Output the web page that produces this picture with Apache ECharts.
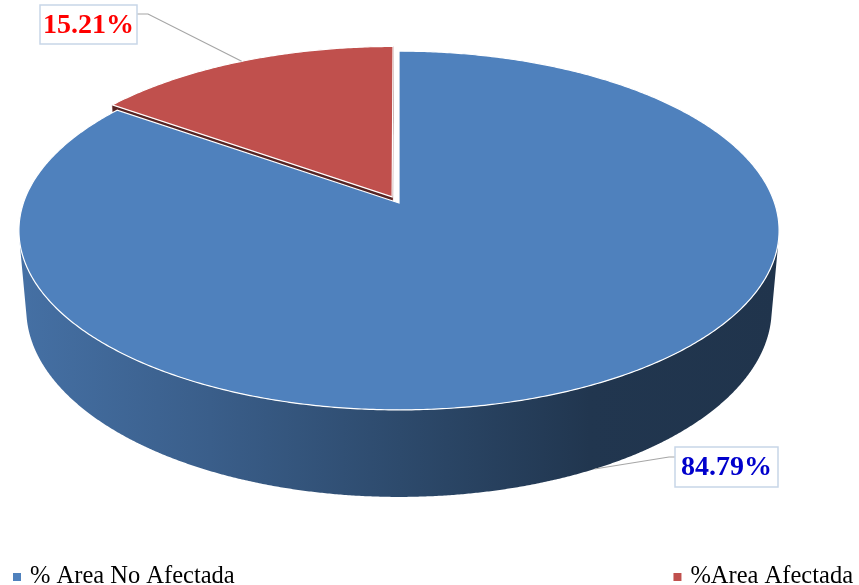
<!DOCTYPE html>
<html>
<head>
<meta charset="utf-8">
<script src="https://cdn.jsdelivr.net/npm/echarts@6/dist/echarts.min.js"></script>
<style>
  html, body { margin: 0; padding: 0; background: #ffffff; }
  #chart { width: 859px; height: 585px; }
</style>
</head>
<body>
<div id="chart"></div>
<script>
// Slice names, shares (%) and colours
const categories = ['% Area No Afectada', '%Area Afectada'];
const shares = [84.79, 15.21];
const sliceColors = ['#4F81BD', '#C0504D'];
const labelColors = ['#0000CC', '#FF0000'];
const explode = [0, 0.04];

// Perspective camera for the 3-D disc (unit radius, thickness `thick`)
const cam = { cx: 399, cy: 203, f: 2167.5, dist: 5.771, tilt: 27.8 * Math.PI / 180, thick: 0.2389 };
const cT = Math.cos(cam.tilt), sT = Math.sin(cam.tilt);

// Label boxes and leader elbows (screen layout)
const labelBoxes = [
  { x: 675, y: 447, w: 103, h: 40, elbow: [669, 457], end: [675, 457], anchorH: -1 },
  { x: 40, y: 5, w: 97, h: 39, elbow: [148, 14], end: [137, 14], anchorH: 0 }
];

const SERIF = 'Liberation Serif';

function project(x, h, z) {
  const yc = h * cT - z * sT;
  const d = cam.dist - (z * cT + h * sT);
  return [cam.cx + cam.f * x / d, cam.cy - cam.f * yc / d];
}

function shade(hex, k) {
  const n = parseInt(hex.slice(1), 16);
  const r = Math.round(((n >> 16) & 255) * k);
  const g = Math.round(((n >> 8) & 255) * k);
  const b = Math.round((n & 255) * k);
  return 'rgb(' + r + ',' + g + ',' + b + ')';
}

// Angular extent of each slice, clockwise from the back of the disc
const total = shares.reduce((a, b) => a + b, 0);
const bounds = [];
(function () {
  let acc = 0;
  shares.forEach(v => {
    const a0 = acc / total * Math.PI * 2;
    acc += v;
    bounds.push([a0, acc / total * Math.PI * 2]);
  });
})();

function sliceOffset(i) {
  const m = (bounds[i][0] + bounds[i][1]) / 2;
  return [explode[i] * Math.sin(m), -explode[i] * Math.cos(m)];
}

function rim(t, h, off) {
  return project(Math.sin(t) + off[0], h, -Math.cos(t) + off[1]);
}

function faceVisible(n, p) {
  const camPos = [0, cam.dist * sT, cam.dist * cT];
  return n[0] * (camPos[0] - p[0]) + n[1] * (camPos[1] - p[1]) + n[2] * (camPos[2] - p[2]) > 1e-6;
}

function buildSlice(i) {
  const [t0, t1] = bounds[i];
  const off = sliceOffset(i);
  const H = -cam.thick;
  const base = sliceColors[i];
  const children = [];

  // radial walls
  [[t0, [-Math.cos(t0), 0, -Math.sin(t0)]], [t1, [Math.cos(t1), 0, Math.sin(t1)]]].forEach(([t, n]) => {
    const p = [off[0] + 0.5 * Math.sin(t), H / 2, off[1] - 0.5 * Math.cos(t)];
    if (!faceVisible(n, p)) return;
    children.push({
      type: 'polygon',
      shape: { points: [project(off[0], 0, off[1]), rim(t, 0, off), rim(t, H, off), project(off[0], H, off[1])] },
      style: { fill: shade(base, 0.45), stroke: shade(base, 0.6), lineWidth: 0.5 }
    });
  });

  // outer curved wall (only the part facing the camera)
  const step = Math.PI / 720;
  const vis = [];
  for (let t = t0; t <= t1 + 1e-9; t += step) {
    const tt = Math.min(t, t1);
    const n = [Math.sin(tt), 0, -Math.cos(tt)];
    const p = [Math.sin(tt) + off[0], H / 2, -Math.cos(tt) + off[1]];
    if (faceVisible(n, p)) vis.push(tt);
  }
  if (vis.length > 1) {
    const top = vis.map(t => rim(t, 0, off));
    const bot = vis.slice().reverse().map(t => rim(t, H, off));
    children.push({
      type: 'polygon',
      shape: { points: top.concat(bot) },
      style: {
        fill: {
          type: 'linear', x: 20, y: 0, x2: 780, y2: 0, global: true,
          colorStops: [
            { offset: 0, color: shade(base, 0.87) },
            { offset: 0.25, color: shade(base, 0.73) },
            { offset: 0.5, color: shade(base, 0.57) },
            { offset: 0.75, color: shade(base, 0.42) },
            { offset: 1, color: shade(base, 0.40) }
          ]
        }
      }
    });
  }

  // top face
  const pts = [project(off[0], 0, off[1])];
  const nSeg = Math.max(2, Math.ceil((t1 - t0) / (Math.PI / 360)));
  for (let k = 0; k <= nSeg; k++) pts.push(rim(t0 + (t1 - t0) * k / nSeg, 0, off));
  children.push({
    type: 'polygon',
    shape: { points: pts },
    style: { fill: base, stroke: '#ffffff', lineWidth: 1.2 }
  });

  // data label with leader line
  const lb = labelBoxes[i];
  const mid = (t0 + t1) / 2;
  const anchor = rim(mid, lb.anchorH * cam.thick, off);
  children.push({
    type: 'polyline',
    shape: { points: [anchor, lb.elbow, lb.end] },
    style: { stroke: '#A6A6A6', lineWidth: 1.2, fill: null }
  });
  children.push({
    type: 'rect',
    shape: { x: lb.x, y: lb.y, width: lb.w, height: lb.h },
    style: { fill: '#ffffff', stroke: '#C8D6E8', lineWidth: 1.5 }
  });
  children.push({
    type: 'text',
    style: {
      text: shares[i].toFixed(2) + '%',
      x: lb.x + lb.w / 2, y: lb.y + lb.h / 2 + 1,
      align: 'center', verticalAlign: 'middle',
      fill: labelColors[i],
      fontFamily: SERIF, fontWeight: 'bold', fontSize: 28
    }
  });
  return { type: 'group', children };
}

const chart = echarts.init(document.getElementById('chart'), null, { renderer: 'canvas' });

// back slice first so the front slice paints over it
const drawOrder = [1, 0];
const legendText = { fontFamily: SERIF, fontSize: 24.5, lineHeight: 28, color: '#000000', padding: [0, 0, 0, 4] };
chart.setOption({
  backgroundColor: '#ffffff',
  animation: false,
  textStyle: { fontFamily: SERIF },
  legend: [
    {
      data: [{ name: categories[0], textStyle: legendText }],
      left: 13, top: 563, padding: 0, icon: 'rect', itemWidth: 8, itemHeight: 8,
      textStyle: legendText,
      selectedMode: false
    },
    {
      data: [{ name: categories[1], textStyle: legendText }],
      right: 6, top: 563, padding: 0, icon: 'rect', itemWidth: 8, itemHeight: 8,
      textStyle: legendText,
      selectedMode: false
    }
  ],
  series: drawOrder.map((i, k) => ({
    type: 'custom',
    name: categories[i],
    coordinateSystem: 'none',
    z: 2 + k,
    silent: true,
    itemStyle: { color: sliceColors[i] },
    data: [[shares[i]]],
    renderItem: () => buildSlice(i)
  }))
});
</script>
</body>
</html>
